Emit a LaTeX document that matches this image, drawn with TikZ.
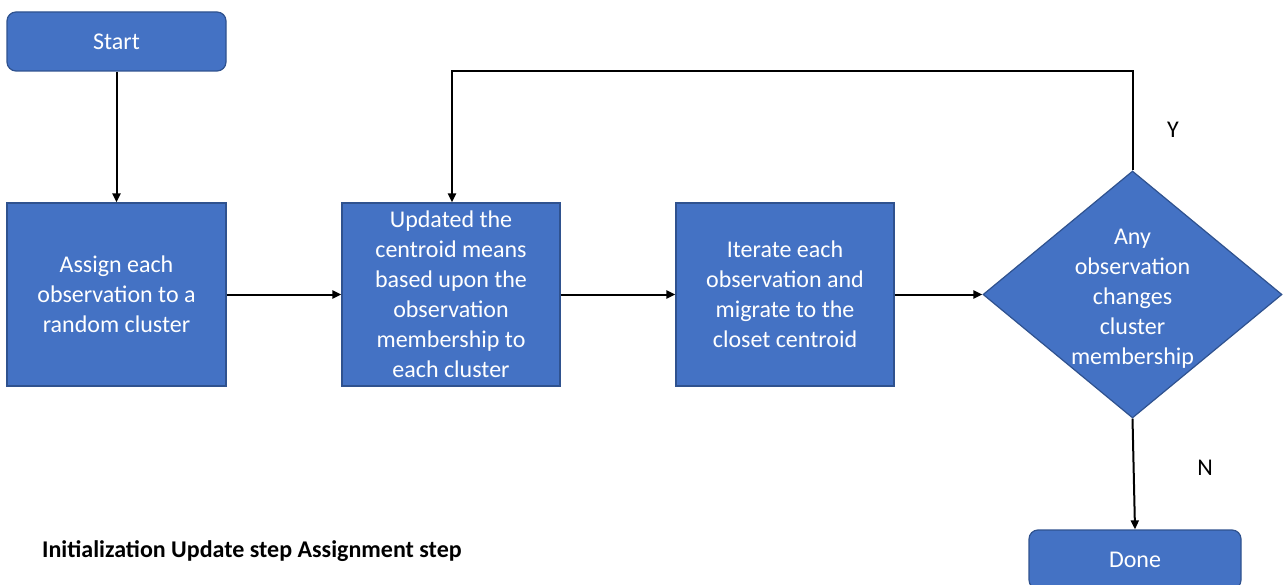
\documentclass[tikz,border=0pt]{standalone}
\usepackage{fontspec}
\setmainfont{Carlito}
\usetikzlibrary{shapes.geometric,arrows.meta}
\definecolor{boxblue}{HTML}{4472C4}
\definecolor{edgeblue}{HTML}{2F528F}
\tikzset{
  boxtext/.style={text=white, align=center, inner sep=0pt, font=\fontsize{24}{30}\selectfont},
  flowbox/.style={draw=edgeblue, line width=1.2pt, fill=boxblue, boxtext},
  terminal/.style={flowbox, rounded corners=9pt},
  flow/.style={line width=2pt, -{Triangle[length=9pt,width=8pt]}},
  tag/.style={font=\fontsize{24}{28}\selectfont, text=black}
}
\begin{document}
\begin{tikzpicture}[x=1pt,y=-1pt]
\useasboundingbox (0,0) rectangle (1284,585);

\node[terminal, minimum width=219pt, minimum height=59pt] (start) at (116.5,41.5) {Start};
\node[flowbox, minimum width=219pt, minimum height=183pt] (assign) at (116.5,294.5)
  {Assign each\\observation to a\\random cluster};
\node[flowbox, minimum width=218pt, minimum height=183pt] (update) at (451,294.5)
  {Updated the\\centroid means\\based upon the\\observation\\membership to\\each cluster};
\node[flowbox, minimum width=218pt, minimum height=183pt] (iterate) at (785,294.5)
  {Iterate each\\observation and\\migrate to the\\closet centroid};
% decision: fixed-size diamond, its text set on top
\node[draw=edgeblue, line width=1.2pt, fill=boxblue, diamond, inner sep=0pt,
      minimum width=299pt, minimum height=247pt] (check) at (1132.5,294.5) {};
\node[boxtext] (checktext) at ([yshift=-4pt]check.center)
  {Any\\observation\\changes\\cluster\\membership};
\node[terminal, minimum width=212pt, minimum height=59pt] (done) at (1135,559.5) {Done};

\coordinate (loopR) at (1132.5,71);
\coordinate (loopL) at (452,71);

\draw[flow] (start.south) -- (assign.north);
\draw[flow] (assign.east) -- (update.west);
\draw[flow] (update.east) -- (iterate.west);
\draw[flow] (iterate.east) -- (check.west);
\draw[flow] (check.north) -- (loopR) -- (loopL) -- (update.north -| loopL);
\draw[flow] (check.south) -- (done.north);

\node[tag] (yes) at (1173,130) {Y};
\node[tag] (no) at (1205,468) {N};

\node[anchor=west, font=\fontsize{24}{28}\selectfont\bfseries, inner sep=0pt] (legend) at (42,551)
  {Initialization Update step Assignment step};
\end{tikzpicture}
\end{document}
